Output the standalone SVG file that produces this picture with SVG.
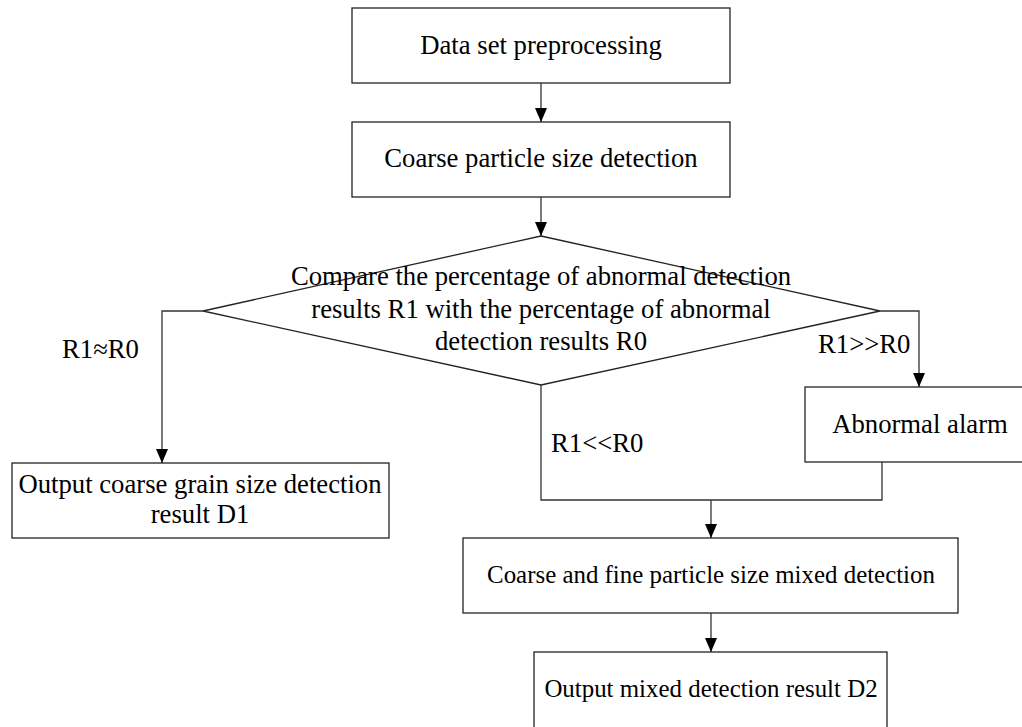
<svg xmlns="http://www.w3.org/2000/svg" width="1022" height="727" viewBox="0 0 1022 727">
<style>
.box{fill:#fff;stroke:#222;stroke-width:1.3}
.t{font-family:"Liberation Serif","Times New Roman",serif;font-size:26.7px;fill:#000}
.s{font-size:24.9px}
.c{text-anchor:middle}
.ln{fill:none;stroke:#333;stroke-width:1.3}
</style>
<defs>
<marker id="ah" viewBox="0 0 14 12" refX="14" refY="6" markerWidth="14" markerHeight="12" markerUnits="userSpaceOnUse" orient="auto">
<path d="M0,0 L14,6 L0,12 Z" fill="#000"/>
</marker>
</defs>
<rect width="1022" height="727" fill="#fff"/>
<g id="n1"><rect class="box" x="352" y="8" width="378" height="75"/><text class="t c" x="541" y="54">Data set preprocessing</text></g>
<g id="n2"><rect class="box" x="352" y="122" width="378" height="75"/><text class="t c" x="541" y="167">Coarse particle size detection</text></g>
<g id="n3"><path class="box" d="M541,236 L880,311 L541,385 L203,311 Z"/>
<text class="t c" x="541" y="285">Compare the percentage of abnormal detection</text>
<text class="t c" x="541" y="318">results R1 with the percentage of abnormal</text>
<text class="t c" x="541" y="350">detection results R0</text></g>
<g id="n4"><rect class="box" x="12" y="463" width="377" height="75"/><text class="t c" x="200" y="493">Output coarse grain size detection</text><text class="t c" x="200" y="523">result D1</text></g>
<g id="n5"><rect class="box" x="805" y="387" width="230" height="75"/><text class="t c" x="920" y="433">Abnormal alarm</text></g>
<g id="n6"><rect class="box" x="463" y="538" width="495" height="75"/><text class="t s c" x="711" y="583">Coarse and fine particle size mixed detection</text></g>
<g id="n7"><rect class="box" x="534" y="652" width="353" height="80"/><text class="t s c" x="711" y="697">Output mixed detection result D2</text></g>
<g id="connectors">
<path class="ln" d="M541,83 V122" marker-end="url(#ah)"/>
<path class="ln" d="M541,197 V236" marker-end="url(#ah)"/>
<path class="ln" d="M203,311 H162 V463" marker-end="url(#ah)"/>
<path class="ln" d="M880,311 H919 V387" marker-end="url(#ah)"/>
<path class="ln" d="M541,385 V500 H882 V462"/>
<path class="ln" d="M711,500 V538" marker-end="url(#ah)"/>
<path class="ln" d="M711,613 V652" marker-end="url(#ah)"/>
</g>
<g id="labels">
<text class="t" x="62" y="358">R1≈R0</text>
<text class="t" x="818" y="353">R1&gt;&gt;R0</text>
<text class="t" x="551" y="452">R1&lt;&lt;R0</text>
</g>
</svg>
